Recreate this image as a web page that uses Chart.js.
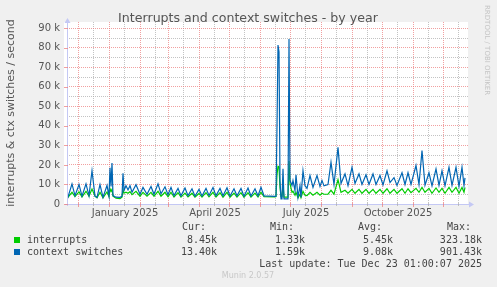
<!DOCTYPE html>
<html>
<head>
<meta charset="utf-8">
<script src="https://cdn.jsdelivr.net/npm/chart.js@4.4.1/dist/chart.umd.min.js"></script>
<style>
  html, body { margin: 0; padding: 0; background: #f0f0f0; }
  canvas { display: block; }
</style>
</head>
<body>
<canvas id="chart" width="497" height="287"></canvas>
<script>
// days since 1 Jan 2025, values in thousands per second
const days = [
  -43, -41, -37, -34, -30, -27, -23, -20, -17, -14, -12, -9, -6, -2, 0, 1, 2, 3, 4, 7, 11, 13, 14,
  15, 17, 19, 21, 23, 27, 31, 34, 38, 42, 45, 49, 52, 56, 59, 62, 65, 69, 72, 76, 79, 83, 86, 90,
  93, 97, 100, 104, 107, 111, 114, 118, 121, 125, 128, 132, 135, 139, 142, 146, 149, 152, 155, 166,
  167, 168, 169, 170, 171, 172, 173, 174, 175, 179, 180, 181, 183, 184, 186, 187, 189, 191, 192,
  194, 196, 198, 201, 204, 208, 211, 213, 215, 219, 222, 225, 229, 232, 236, 239, 243, 246, 250,
  253, 257, 260, 264, 267, 271, 274, 278, 281, 285, 288, 293, 296, 299, 302, 307, 310, 313, 316,
  320, 323, 327, 330, 333, 336, 340, 343, 347, 350, 353, 355, 356
];
const ctxSwitches = [
  6.0, 3.6, 10.3, 4.2, 10.0, 4.0, 10.3, 4.2, 17.0, 4.0, 3.4, 9.9, 3.4, 9.5, 4.0, 18.5, 9.0, 21.0, 4.3, 3.5, 3.4, 4.0, 15.7,
  7.0, 9.4, 7.2, 9.4, 6.0, 9.9, 5.0, 8.5, 5.0, 9.0, 5.0, 10.3, 5.2, 8.8, 4.8, 8.5, 4.3, 8.0, 4.2, 8.2, 4.3, 7.8, 4.0, 7.5,
  4.1, 8.0, 4.4, 8.5, 4.3, 8.0, 4.2, 8.3, 4.1, 7.8, 4.2, 8.0, 4.0, 8.2, 4.1, 7.8, 4.2, 8.6, 4.2, 3.9,
  4.0, 40, 81.4, 78, 12, 2.6, 2.6, 18, 2.6, 2.6, 84.5, 12, 9.5, 12, 6.8, 15, 3.5, 9.4, 3.4,
  17, 9.4, 8.0, 14.6, 8.5, 14.6, 9.0, 12, 9.3, 10, 21.4, 10, 29, 10.5, 15.4, 9.4, 18.8, 10.5, 15.4,
  10, 15, 10, 15.4, 10, 14.6, 9.8, 17, 11, 13.5, 9.5, 16, 10, 16, 10, 19.7, 10, 27.4, 9.6,
  16, 9.3, 18, 9.5, 17, 9.3, 18.8, 9.5, 18.8, 9.0, 18.8, 9.5, 13.4
];
const interrupts = [
  5.0, 3.5, 6.0, 3.8, 6.2, 3.6, 6.5, 4.0, 7.7, 4.0, 3.2, 6.0, 3.2, 6.2, 3.8, 7.8, 6.5, 7.5, 4.0, 3.0, 2.8, 3.5, 7.3,
  5.5, 6.0, 5.5, 6.3, 4.8, 6.5, 4.0, 6.0, 4.0, 6.0, 4.0, 6.5, 4.0, 6.0, 3.8, 6.0, 3.6, 5.8, 3.5, 5.6, 3.6, 5.5, 3.5, 5.4,
  3.5, 5.8, 3.7, 6.0, 3.6, 5.8, 3.5, 6.0, 3.5, 5.6, 3.5, 5.8, 3.4, 5.8, 3.5, 5.6, 3.6, 6.0, 3.8, 3.6,
  3.8, 15, 19.3, 19, 8.5, 3.8, 3.8, 10, 3.5, 3.5, 22, 10.4, 6, 6.5, 4.5, 6, 3.2, 5, 3.2,
  6.5, 4.5, 4.3, 6.0, 4.5, 6.0, 4.5, 5.5, 5, 5, 7, 5, 12.5, 6, 7, 5.5, 7.5, 5.5, 7.5,
  5.5, 7.5, 5.5, 7.5, 5.5, 7.5, 5.5, 7.8, 5.5, 7.5, 5.5, 7.8, 5.5, 7.8, 5.8, 8.0, 6.0, 8.5, 6.0,
  8.0, 5.5, 8.2, 6, 8, 5.5, 8.5, 6, 8.5, 5.5, 8.5, 6, 8.45
];

const monthStarts = [-31, 0, 31, 59, 90, 120, 151, 181, 212, 243, 273, 304, 334];
const monthMids = [-16, 15, 46, 74, 105, 135, 166, 196, 227, 258, 288, 319, 349];
const xLabelDays = [16, 106, 197, 289];
const xLabels = ["January 2025", "April 2025", "July 2025", "October 2025"];
const yTicks = [0, 10, 20, 30, 40, 50, 60, 70, 80, 90];
const yMinorTicks = [5, 15, 25, 35, 45, 55, 65, 75, 85];

const seriesNames = ["interrupts", "context switches"];
const seriesColors = ["#00cc00", "#0066b3"];
const statHeads = ["Cur:", "Min:", "Avg:", "Max:"];
const statsInterrupts = ["8.45k", "1.33k", "5.45k", "323.18k"];
const statsCtx = ["13.40k", "1.59k", "9.08k", "901.43k"];
const lastUpdate = "Last update: Tue Dec 23 01:00:07 2025";

const MAJOR = "rgba(235,120,120,0.7)";
const MINOR = "rgba(170,170,170,0.7)";
const AXIS = "#c4c8f4";

const munin = {
  id: "munin",
  beforeDraw(chart) {
    const { ctx, chartArea: a } = chart;
    ctx.save();
    ctx.fillStyle = "#fff";
    ctx.fillRect(a.left - 3, a.top, a.right - a.left + 3, a.bottom - a.top);
    ctx.restore();
  },
  afterDraw(chart) {
    const { ctx, chartArea: a } = chart;
    const xs = chart.scales.x, ys = chart.scales.y;
    ctx.save();

    // axes with arrows
    ctx.strokeStyle = AXIS;
    ctx.fillStyle = AXIS;
    ctx.lineWidth = 1;
    ctx.beginPath();
    ctx.moveTo(a.left - 2, a.bottom + 0.5);
    ctx.lineTo(a.right + 2, a.bottom + 0.5);
    ctx.moveTo(a.left + 0.5, a.bottom + 2);
    ctx.lineTo(a.left + 0.5, a.top);
    ctx.stroke();
    ctx.beginPath();
    ctx.moveTo(a.right + 6, a.bottom + 0.5);
    ctx.lineTo(a.right + 1, a.bottom - 2.5);
    ctx.lineTo(a.right + 1, a.bottom + 3.5);
    ctx.fill();
    ctx.beginPath();
    ctx.moveTo(a.left + 0.5, a.top - 4);
    ctx.lineTo(a.left - 2.5, a.top + 1);
    ctx.lineTo(a.left + 3.5, a.top + 1);
    ctx.fill();

    // tick marks
    ctx.lineWidth = 1;
    monthStarts.forEach(d => {
      const px = Math.round(xs.getPixelForValue(d)) + 0.5;
      ctx.strokeStyle = MAJOR;
      ctx.beginPath(); ctx.moveTo(px, a.bottom - 1); ctx.lineTo(px, a.bottom + 3); ctx.stroke();
    });
    monthMids.forEach(d => {
      const px = Math.round(xs.getPixelForValue(d)) + 0.5;
      ctx.strokeStyle = MINOR;
      ctx.beginPath(); ctx.moveTo(px, a.bottom - 1); ctx.lineTo(px, a.bottom + 2); ctx.stroke();
    });
    yTicks.forEach(v => {
      const py = Math.round(ys.getPixelForValue(v)) + 0.5;
      ctx.strokeStyle = MAJOR;
      ctx.beginPath(); ctx.moveTo(a.left - 3, py); ctx.lineTo(a.left + 1, py); ctx.stroke();
    });

    // tick labels
    ctx.fillStyle = "#555";
    ctx.font = "10px 'DejaVu Sans'";
    ctx.textAlign = "right";
    ctx.textBaseline = "middle";
    yTicks.forEach(v => {
      ctx.fillText(v === 0 ? "0" : v + " k", a.left - 7, ys.getPixelForValue(v));
    });
    ctx.textAlign = "center";
    xLabelDays.forEach((d, i) => {
      ctx.fillText(xLabels[i], xs.getPixelForValue(d), a.bottom + 9);
    });

    // title
    ctx.font = "12.6px 'DejaVu Sans'";
    ctx.fillText("Interrupts and context switches - by year", 248, 19);

    // y title
    ctx.save();
    ctx.translate(11, 113);
    ctx.rotate(-Math.PI / 2);
    ctx.font = "11px 'DejaVu Sans'";
    ctx.fillText("interrupts & ctx switches / second", 0, 0);
    ctx.restore();

    // rrdtool watermark
    ctx.save();
    ctx.translate(487, 5);
    ctx.rotate(Math.PI / 2);
    ctx.font = "7px 'DejaVu Sans'";
    ctx.fillStyle = "#c4c4c4";
    ctx.textAlign = "left";
    ctx.fillText("RRDTOOL / TOBI OETIKER", 0, 0);
    ctx.restore();

    // legend
    ctx.font = "10px 'DejaVu Sans Mono'";
    ctx.fillStyle = "#444";
    ctx.textAlign = "left";
    const colRight = [217, 305, 393, 482];
    statHeads.forEach((h, i) => ctx.fillText(h, colRight[i] - 35, 227));
    const rows = [statsInterrupts, statsCtx];
    rows.forEach((row, r) => {
      const yy = 240 + r * 12;
      ctx.fillStyle = seriesColors[r];
      ctx.fillRect(14, yy - 3, 6, 6);
      ctx.fillStyle = "#444";
      ctx.textAlign = "left";
      ctx.fillText(seriesNames[r], 27, yy);
      ctx.textAlign = "right";
      row.forEach((s, i) => ctx.fillText(s, colRight[i], yy));
    });
    ctx.fillText(lastUpdate, 482, 264);

    ctx.font = "8px 'DejaVu Sans'";
    ctx.fillStyle = "#c8c8c8";
    ctx.textAlign = "center";
    ctx.fillText("Munin 2.0.57", 248, 276);
    ctx.restore();
  }
};

const toPoints = vals => days.map((d, i) => ({ x: d, y: vals[i] }));

new Chart(document.getElementById("chart").getContext("2d"), {
  type: "line",
  plugins: [munin],
  data: {
    datasets: [
      {
        label: seriesNames[1],
        data: toPoints(ctxSwitches),
        borderColor: seriesColors[1],
        borderWidth: 1.2,
        pointRadius: 0,
        tension: 0,
        order: 0
      },
      {
        label: seriesNames[0],
        data: toPoints(interrupts),
        borderColor: seriesColors[0],
        borderWidth: 1.2,
        pointRadius: 0,
        tension: 0,
        order: 1
      }
    ]
  },
  options: {
    responsive: false,
    animation: false,
    events: [],
    layout: { padding: { left: 67, right: 29, top: 22, bottom: 83 } },
    plugins: { legend: { display: false }, tooltip: { enabled: false } },
    scales: {
      x: {
        type: "linear",
        min: -42,
        max: 359,
        afterBuildTicks: s => { s.ticks = monthStarts.concat(monthMids).map(v => ({ value: v })); },
        ticks: { display: false },
        grid: {
          drawTicks: false,
          color: c => (c.tick && monthStarts.includes(c.tick.value) ? MAJOR : MINOR)
        },
        border: { display: false, dash: [1, 1] }
      },
      y: {
        min: 0,
        max: 93.2,
        afterBuildTicks: s => { s.ticks = yTicks.concat(yMinorTicks).map(v => ({ value: v })); },
        ticks: { display: false },
        grid: {
          drawTicks: false,
          color: c => (c.tick && yTicks.includes(c.tick.value) ? MAJOR : MINOR)
        },
        border: { display: false, dash: [1, 1] }
      }
    }
  }
});
</script>
</body>
</html>
